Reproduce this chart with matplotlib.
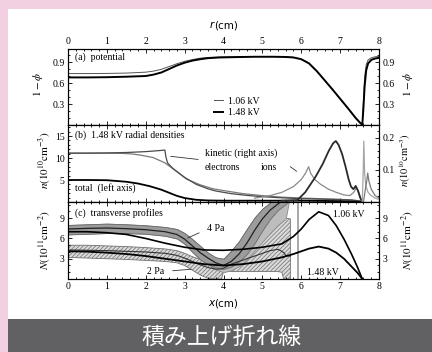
import matplotlib.pyplot as plt
import matplotlib.patches as mpatches
from matplotlib.ticker import MultipleLocator

plt.rcParams['mathtext.fontset'] = 'stix'
plt.rcParams['hatch.linewidth'] = 0.5

SERIF = 'Liberation Serif'

# --- (a) potential, 1 - phi versus r ---
r_pot = [0, 0.5, 1.0, 1.5, 2.0, 2.2, 2.4, 2.6, 2.8, 3.0, 3.2, 3.4, 3.6, 3.9, 4.3,
         4.8, 5.3, 5.6, 5.8, 6.0, 6.2, 6.4, 6.6, 6.8, 7.0, 7.2, 7.4, 7.5, 7.57,
         7.6, 7.63, 7.67, 7.72, 7.8, 7.9, 8.0]
pot_106 = [0.735, 0.735, 0.737, 0.742, 0.755, 0.77, 0.795, 0.835, 0.875, 0.91, 0.935,
           0.955, 0.965, 0.972, 0.976, 0.978, 0.978, 0.975, 0.967, 0.942, 0.882, 0.772,
           0.642, 0.512, 0.377, 0.242, 0.102, 0.042, 0.0, 0.35, 0.68, 0.86, 0.93,
           0.96, 0.975, 0.98]
pot_148 = [0.68, 0.68, 0.683, 0.69, 0.70, 0.72, 0.75, 0.80, 0.85, 0.89, 0.92, 0.94,
           0.955, 0.965, 0.97, 0.975, 0.975, 0.972, 0.965, 0.94, 0.88, 0.77, 0.64,
           0.51, 0.375, 0.24, 0.10, 0.04, 0.0, 0.25, 0.55, 0.78, 0.88, 0.93, 0.95, 0.96]

# --- (b) 1.48 kV radial densities ---
# left axis (10^10 cm^-3)
r_tot_a = [0, 0.5, 1.0, 1.5, 2.0, 2.3, 2.49, 2.52, 2.56, 2.7, 3.0, 3.3, 3.6, 3.8, 4.2,
           4.6, 5.0, 5.5, 6.0, 6.5, 7.0, 7.3, 7.5, 7.57]
n_tot_a = [11.1, 11.1, 11.15, 11.25, 11.45, 11.65, 11.8, 10.2, 8.9, 7.6, 5.6, 4.0,
           3.0, 2.5, 1.9, 1.5, 1.2, 0.95, 0.75, 0.65, 0.55, 0.45, 0.2, 0.0]
r_tot_b = [0, 0.5, 1.0, 1.4, 1.67, 1.9, 2.19, 2.49, 2.71, 3.05, 3.4, 3.73, 4.0, 4.5,
           5.0, 5.5, 6.0, 6.5, 7.0, 7.5, 7.57]
n_tot_b = [11.1, 11.1, 11.1, 11.05, 10.9, 10.6, 10.1, 8.9, 7.5, 5.2, 3.9, 3.0, 2.6,
           1.9, 1.45, 1.1, 0.9, 0.75, 0.6, 0.3, 0.0]
r_tot_e = [0, 0.5, 1.0, 1.5, 1.8, 2.1, 2.4, 2.6, 2.8, 3.0, 3.3, 3.6, 4.0, 5.0, 6.0,
           7.0, 7.57]
n_tot_e = [5.0, 5.0, 4.95, 4.6, 4.2, 3.6, 2.8, 2.1, 1.4, 0.9, 0.5, 0.35, 0.3, 0.3,
           0.3, 0.2, 0.0]
# right axis (10^10 cm^-3)
r_kin_e = [4.8, 5.2, 5.5, 5.8, 6.0, 6.1, 6.19, 6.24, 6.35, 6.5, 6.7, 6.9, 7.1, 7.25,
           7.35, 7.42, 7.48, 7.55, 7.57]
n_kin_e = [0.012, 0.02, 0.03, 0.048, 0.07, 0.088, 0.11, 0.09, 0.07, 0.055, 0.04, 0.03,
           0.022, 0.02, 0.03, 0.045, 0.03, 0.005, 0.0]
r_kin_i = [5.5, 5.9, 6.1, 6.37, 6.55, 6.71, 6.82, 6.89, 6.96, 7.05, 7.14, 7.22, 7.28,
           7.34, 7.4, 7.46, 7.52, 7.57]
n_kin_i = [0.004, 0.006, 0.03, 0.079, 0.118, 0.16, 0.183, 0.19, 0.178, 0.15, 0.11,
           0.07, 0.048, 0.04, 0.05, 0.035, 0.012, 0.0]
r_wall_e = [7.57, 7.595, 7.61, 7.63, 7.66, 7.72, 7.8, 7.9, 8.0]
n_wall_e = [0.0, 0.1, 0.19, 0.09, 0.05, 0.03, 0.02, 0.012, 0.008]
r_wall_i = [7.6, 7.65, 7.69, 7.71, 7.74, 7.8, 7.9, 8.0]
n_wall_i = [0.0, 0.04, 0.07, 0.09, 0.065, 0.04, 0.02, 0.012]

# --- (c) transverse profiles, N(10^11 cm^-2) versus x ---
x_model = [0, 0.5, 1.0, 1.5, 2.0, 2.5, 3.0, 3.5, 4.0, 4.5, 5.0, 5.5, 5.8, 6.0, 6.2,
           6.45, 6.7, 6.9, 7.1, 7.3, 7.45, 7.57]
N_106 = [7.0, 7.0, 6.85, 6.6, 6.0, 5.3, 4.7, 4.3, 4.25, 4.4, 4.7, 5.2, 6.3, 7.4, 8.8,
         9.95, 9.4, 7.9, 5.9, 3.6, 1.7, 0.0]
N_148 = [4.1, 4.05, 3.9, 3.7, 3.4, 3.0, 2.6, 2.2, 2.0, 2.2, 2.6, 3.2, 3.7, 4.1, 4.5,
         4.8, 4.5, 3.9, 3.0, 1.8, 0.9, 0.0]

x_4pa = [0, 0.5, 1.0, 1.5, 2.0, 2.5, 2.8, 3.0, 3.2, 3.4, 3.6, 3.8, 4.0, 4.2, 4.4,
         4.6, 4.8, 5.0, 5.2, 5.4, 5.6, 5.7, 5.8]
N_4pa = [7.4, 7.5, 7.55, 7.45, 7.3, 7.0, 6.6, 5.9, 4.9, 3.9, 3.1, 2.4, 2.0, 2.6, 3.7,
         5.3, 7.2, 8.9, 10.2, 11.1, 12.0, 12.4, 12.8]
N_4pa_hi = [8.0, 8.1, 8.2, 8.1, 7.95, 7.7, 7.4, 6.8, 5.9, 4.9, 3.9, 3.2, 3.0, 4.2,
            5.6, 7.4, 9.1, 10.4, 11.3, 12.1, 12.8, 13.0, 13.2]
N_4pa_lo = [6.6, 6.7, 6.8, 6.8, 6.7, 6.4, 6.0, 5.2, 4.0, 2.9, 2.2, 1.7, 1.5, 1.8,
            2.6, 3.7, 5.3, 7.2, 8.9, 10.2, 11.1, 11.6, 12.0]
N_4pa_spread = [6.6, 6.7, 6.8, 6.8, 6.7, 6.4, 6.0, 5.2, 4.0, 2.9, 2.2, 1.4, 1.0, 1.3,
                1.9, 2.9, 4.2, 5.5, 6.8, 8.0, 8.9, 12.0, 12.0]

x_2pa = [0, 0.5, 1.0, 1.5, 2.0, 2.5, 2.8, 3.0, 3.2, 3.4, 3.6, 3.8, 3.95, 4.0, 4.2,
         4.4, 4.6, 4.8, 5.0, 5.2, 5.4, 5.5, 5.55, 5.6, 5.72]
N_2pa = [4.3, 4.25, 4.2, 4.1, 4.0, 3.8, 3.5, 3.1, 2.6, 2.1, 1.7, 1.45, 1.5, 1.6, 2.2,
         2.6, 3.0, 3.4, 3.8, 4.2, 4.4, 4.1, 3.9, 3.5, 3.4]
N_2pa_hi = [5.0, 5.0, 4.9, 4.8, 4.65, 4.45, 4.2, 3.8, 3.3, 2.9, 2.7, 2.6, 2.65, 2.7,
            3.3, 4.4, 5.6, 6.8, 7.8, 8.5, 8.9, 9.0, 9.0, 9.0, 8.9]
N_2pa_lo = [3.2, 3.1, 3.0, 2.9, 2.75, 2.6, 2.4, 2.0, 1.3, 0.6, 0.1, 0.0, 0.0, 1.1,
            1.1, 1.1, 1.1, 1.1, 1.1, 1.1, 1.1, 1.0, 0.0, 0.0, 0.0]
probe_edge = 5.92

W, H = 432, 352
fig = plt.figure(figsize=(W / 100, H / 100), dpi=100, facecolor='#f2d0e1')

# white card and dark caption strip
fig.patches.append(mpatches.Rectangle((8 / W, 1 - 319 / H), 1, (319 - 9) / H,
                                      transform=fig.transFigure, facecolor='white',
                                      edgecolor='none', zorder=-2))
fig.patches.append(mpatches.Rectangle((8 / W, 0), 1, 33 / H,
                                      transform=fig.transFigure, facecolor='#616163',
                                      edgecolor='none', zorder=-1))
fig.text(222 / W, 1 - 337 / H, '積み上げ折れ線', color='white', fontsize=16.5,
         family=['Noto Sans CJK JP', 'DejaVu Sans'], ha='center', va='center')

left, width = 68 / W, (379 - 68) / W


def panel(top_px, bot_px):
    return fig.add_axes([left, 1 - bot_px / H, width, (bot_px - top_px) / H])


def serif_labels(ax):
    for lab in ax.get_xticklabels() + ax.get_yticklabels():
        lab.set_family(SERIF)


def style(ax, ymaj, ymin):
    ax.set_xlim(0, 8)
    ax.xaxis.set_major_locator(MultipleLocator(1))
    ax.xaxis.set_minor_locator(MultipleLocator(0.2))
    ax.yaxis.set_major_locator(MultipleLocator(ymaj))
    ax.yaxis.set_minor_locator(MultipleLocator(ymin))
    ax.tick_params(which='both', direction='in', top=True, bottom=True,
                   labeltop=False, labelbottom=False, labelsize=7, pad=2.5,
                   width=0.6)
    ax.tick_params(which='major', length=3)
    ax.tick_params(which='minor', length=1.6)
    for s in ax.spines.values():
        s.set_linewidth(0.8)


def twin(ax, lo, hi, ymin):
    tw = ax.twinx()
    tw.set_ylim(lo, hi)
    tw.yaxis.set_minor_locator(MultipleLocator(ymin))
    tw.tick_params(which='both', direction='in', labelsize=7, pad=2.5, width=0.6)
    tw.tick_params(which='major', length=3)
    tw.tick_params(which='minor', length=1.6)
    return tw


def side_label(x_px, y_px, s, size=8):
    fig.text(x_px / W, 1 - y_px / H, s, fontsize=size, rotation=90,
             ha='center', va='center')


# (a)
ax_a = panel(49, 125)
ax_a.plot(r_pot, pot_106, color='#555555', lw=0.7, label='1.06 kV')
ax_a.plot(r_pot, pot_148, color='black', lw=1.4, label='1.48 kV')
ax_a.set_ylim(0, 1.086)
style(ax_a, 0.3, 0.1)
ax_a.tick_params(labeltop=True)
ax_a.set_yticks([0.3, 0.6, 0.9])
ax_a.yaxis.set_major_formatter(plt.FormatStrFormatter('%.1f'))
serif_labels(ax_a)
ax_a.text(0.18, 0.97, '(a)  potential', fontsize=7, family=SERIF, va='center')
ax_a.legend(loc='upper left', bbox_to_anchor=(0.44, 0.49), frameon=False,
            handlelength=1.0, handletextpad=0.5, labelspacing=0.25,
            prop={'family': SERIF, 'size': 7})
tw_a = twin(ax_a, 0, 1.086, 0.1)
tw_a.set_yticks([0.3, 0.6, 0.9])
tw_a.yaxis.set_major_formatter(plt.FormatStrFormatter('%.1f'))
serif_labels(tw_a)
side_label(38, 84, r'$1-\phi$')
side_label(408, 84, r'$1-\phi$')

# (b)
ax_b = panel(125, 202)
ax_b.plot(r_tot_b, n_tot_b, color='#7a7a7a', lw=0.9)
ax_b.plot(r_tot_a, n_tot_a, color='#4a4a4a', lw=0.9)
ax_b.plot(r_tot_e, n_tot_e, color='black', lw=1.3)
ax_b.set_ylim(0, 17.5)
style(ax_b, 5, 1)
ax_b.set_yticks([5, 10, 15])
serif_labels(ax_b)
tw_b = twin(ax_b, 0, 0.24, 0.02)
tw_b.set_yticks([0.1, 0.2])
serif_labels(tw_b)
tw_b.plot(r_kin_e, n_kin_e, color='#8a8a8a', lw=0.9)
tw_b.plot(r_kin_i, n_kin_i, color='#2a2a2a', lw=1.3)
tw_b.plot(r_wall_e, n_wall_e, color='#a5a5a5', lw=0.9)
tw_b.plot(r_wall_i, n_wall_i, color='#7a7a7a', lw=0.9)
side_label(45, 160, r'$n(10^{10}\mathrm{cm}^{-3})$')
side_label(405, 160, r'$n(10^{10}\mathrm{cm}^{-3})$', size=7.5)
ax_b.text(0.18, 15.2, '(b)  1.48 kV radial densities', fontsize=7, family=SERIF,
          va='center')
ax_b.text(3.52, 11.1, 'kinetic (right axis)', fontsize=7, family=SERIF, va='center')
ax_b.text(3.52, 7.95, 'electrons', fontsize=7, family=SERIF, va='center')
ax_b.text(4.96, 7.95, 'ions', fontsize=7, family=SERIF, va='center')
ax_b.text(0.18, 3.2, 'total  (left axis)', fontsize=7, family=SERIF, va='center')
ax_b.annotate('', xy=(2.57, 10.45), xytext=(3.42, 9.6),
              arrowprops=dict(arrowstyle='-', lw=0.6, color='#333333'))
ax_b.annotate('', xy=(5.94, 6.6), xytext=(5.66, 8.4),
              arrowprops=dict(arrowstyle='-', lw=0.6, color='#333333'))

# (c)
ax_c = panel(202, 279)
ax_c.fill_between(x_2pa, N_2pa_lo, N_2pa_hi, facecolor='#dadada', edgecolor='#707070',
                  hatch='////////', lw=0.6, zorder=1)
ax_c.fill_between(x_4pa, N_4pa_spread, N_4pa_hi, facecolor='#bdbdbd',
                  edgecolor='#8a8a8a', lw=0.6, zorder=2)
ax_c.fill_between(x_4pa, N_4pa_lo, N_4pa_hi, facecolor='#9c9c9c', edgecolor='#6a6a6a',
                  lw=0.6, zorder=3)
ax_c.plot(x_2pa, N_2pa, color='#333333', lw=0.8, zorder=4)
ax_c.plot(x_4pa, N_4pa, color='#222222', lw=0.9, zorder=4)
ax_c.axvline(probe_edge, color='#9a9a9a', lw=1.2, zorder=4)
ax_c.plot(x_model, N_106, color='black', lw=1.2, zorder=5)
ax_c.plot(x_model, N_148, color='black', lw=1.3, zorder=5)
ax_c.set_ylim(0, 11.4)
style(ax_c, 3, 1)
ax_c.tick_params(labelbottom=True)
ax_c.set_yticks([3, 6, 9])
serif_labels(ax_c)
tw_c = twin(ax_c, 0, 11.4, 1)
tw_c.set_yticks([3, 6, 9])
serif_labels(tw_c)
side_label(45, 240, r'$N(10^{11}\mathrm{cm}^{-2})$')
side_label(408, 240, r'$N(10^{11}\mathrm{cm}^{-2})$')
ax_c.text(0.18, 9.78, '(c)  transverse profiles', fontsize=7, family=SERIF,
          va='center', zorder=6)
ax_c.text(3.58, 7.55, '4 Pa', fontsize=7, family=SERIF, va='center', zorder=6)
ax_c.annotate('', xy=(3.01, 5.9), xytext=(3.44, 7.0), zorder=6,
              arrowprops=dict(arrowstyle='-', lw=0.6, color='#333333'))
ax_c.text(2.03, 1.04, '2 Pa', fontsize=7, family=SERIF, va='center', zorder=6)
ax_c.annotate('', xy=(3.24, 1.48), xytext=(2.62, 1.19), zorder=6,
              arrowprops=dict(arrowstyle='-', lw=0.6, color='#333333'))
ax_c.text(6.81, 9.6, '1.06 kV', fontsize=7, family=SERIF, va='center', zorder=6)
ax_c.text(6.15, 0.9, '1.48 kV', fontsize=7, family=SERIF, va='center', zorder=6)

# axis titles: italic variable, upright unit
for y_px, var in ((25, 'r'), (303, 'x')):
    fig.text(214 / W, 1 - y_px / H, var, fontsize=7.5, style='italic',
             ha='right', va='center', family='DejaVu Sans')
    fig.text(214 / W, 1 - y_px / H, '(cm)', fontsize=7.5,
             ha='left', va='center', family='DejaVu Sans')

fig.savefig('out.png', dpi=100, facecolor=fig.get_facecolor())
